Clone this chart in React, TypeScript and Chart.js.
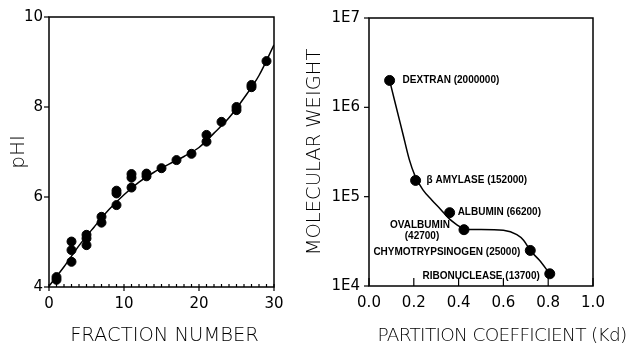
import React, { useEffect, useRef } from "react";
import { Chart, registerables } from "chart.js";

Chart.register(...registerables);

// ---- Left panel: pH gradient across fractions ----
const fractionNumber = [1, 1, 3, 3, 3, 5, 5, 5, 7, 7, 9, 9, 9, 11, 11, 11, 13, 13, 15, 17, 19, 21, 21, 23, 25, 25, 27, 27, 29];
const fractionPh = [4.22, 4.16, 5.01, 4.82, 4.56, 5.16, 5.08, 4.93, 5.56, 5.43, 6.14, 6.08, 5.82, 6.51, 6.43, 6.21, 6.52, 6.46, 6.64, 6.82, 6.96, 7.38, 7.23, 7.67, 8.0, 7.93, 8.49, 8.44, 9.02];
const phFitFraction = [0, 2, 4, 6, 8, 10, 12, 14, 16, 18, 20, 22, 24, 26, 28, 30];
const phFitValue = [4.02, 4.45, 4.92, 5.33, 5.72, 6.05, 6.33, 6.55, 6.73, 6.9, 7.1, 7.42, 7.76, 8.2, 8.7, 9.38];
const fractionTicks = [0, 10, 20, 30];
const phTicks = [4, 6, 8, 10];

// ---- Right panel: calibration of molecular weight vs Kd ----
const standardNames = ["DEXTRAN", "β AMYLASE", "ALBUMIN", "OVALBUMIN", "CHYMOTRYPSINOGEN", "RIBONUCLEASE"];
const standardKd = [0.092, 0.208, 0.36, 0.424, 0.72, 0.807];
const standardMw = [2000000, 152000, 66200, 42700, 25000, 13700];
const calibKd = [0.092, 0.115, 0.152, 0.18, 0.205, 0.24, 0.28, 0.32, 0.36, 0.4, 0.424, 0.5, 0.6, 0.66, 0.69, 0.72, 0.76, 0.807];
const calibMw = [2000000, 1170000, 497000, 260000, 172000, 120000, 92000, 72000, 56000, 47000, 43000, 43000, 42000, 37500, 32500, 25000, 19500, 13700];
const kdTicks = [0, 0.2, 0.4, 0.6, 0.8, 1.0];
const mwTicks = [10000, 100000, 1000000, 10000000];

const TICK_FONT = { family: "'DejaVu Sans', sans-serif", size: 15 };
const TITLE_FAMILY = "'DejaVu Sans', sans-serif";
const LABEL_FONT = "bold 10px 'Liberation Sans Narrow', 'Liberation Sans', sans-serif";

type TickSpec = { axis: "x" | "y"; values: number[]; len: number };

// Draws the boxed frame, the tick marks (positive = outward, negative = inward)
// and the horizontal axis title.
const framePlugin = {
  id: "frame",
  afterDraw(chart: any, _args: any, opts: any) {
    const { ctx, chartArea: a, scales } = chart;
    ctx.save();
    ctx.strokeStyle = "#000";
    ctx.lineWidth = 1.5;
    ctx.strokeRect(a.left, a.top, a.right - a.left, a.bottom - a.top);
    ctx.lineWidth = 1.2;
    (opts.ticks as TickSpec[]).forEach((spec) => {
      spec.values.forEach((v) => {
        ctx.beginPath();
        if (spec.axis === "x") {
          const px = scales.x.getPixelForValue(v);
          ctx.moveTo(px, a.bottom);
          ctx.lineTo(px, a.bottom + spec.len);
        } else {
          const py = scales.y.getPixelForValue(v);
          ctx.moveTo(a.left, py);
          ctx.lineTo(a.left - spec.len, py);
        }
        ctx.stroke();
      });
    });
    if (opts.xTitle) {
      ctx.fillStyle = "#000";
      ctx.font = opts.xTitle.font;
      (ctx as any).letterSpacing = opts.xTitle.spacing || "0px";
      ctx.textAlign = "center";
      ctx.textBaseline = "middle";
      ctx.fillText(opts.xTitle.text, (a.left + a.right) / 2 + opts.xTitle.dx, opts.xTitle.y);
    }
    ctx.restore();
  },
};

// Writes the name and molecular weight beside each standard.
const labelPlugin = {
  id: "standardLabels",
  afterDatasetsDraw(chart: any) {
    const { ctx, scales } = chart;
    ctx.save();
    ctx.fillStyle = "#000";
    ctx.font = LABEL_FONT;
    ctx.textBaseline = "middle";
    standardNames.forEach((name, i) => {
      const px = scales.x.getPixelForValue(standardKd[i]);
      const py = scales.y.getPixelForValue(standardMw[i]);
      const mw = `(${standardMw[i]})`;
      if (name === "OVALBUMIN") {
        ctx.textAlign = "center";
        ctx.fillText(name, px - 44, py - 4);
        ctx.fillText(mw, px - 42, py + 7);
      } else if (standardKd[i] > 0.6) {
        ctx.textAlign = "right";
        ctx.fillText(`${name} ${mw}`, px - 10, py + 2);
      } else {
        ctx.textAlign = "left";
        ctx.fillText(`${name} ${mw}`, px + (i === 0 ? 13 : i === 1 ? 11 : 8), py);
      }
    });
    ctx.restore();
  },
};

function leftConfig(): any {
  return {
    type: "scatter",
    data: {
      datasets: [
        {
          data: fractionNumber.map((x, i) => ({ x, y: fractionPh[i] })),
          pointRadius: 4.5,
          pointBackgroundColor: "#000",
          pointBorderColor: "#000",
          showLine: false,
        },
        {
          data: phFitFraction.map((x, i) => ({ x, y: phFitValue[i] })),
          showLine: true,
          pointRadius: 0,
          borderColor: "#000",
          borderWidth: 1.5,
          cubicInterpolationMode: "monotone",
        },
      ],
    },
    options: {
      responsive: false,
      animation: false,
      layout: { padding: { left: 0, top: 17, right: 31, bottom: 0 } },
      plugins: {
        legend: { display: false },
        tooltip: { enabled: false },
        frame: {
          ticks: [
            { axis: "y", values: phTicks, len: 5 },
            { axis: "x", values: fractionTicks, len: 4 },
            { axis: "x", values: Array.from({ length: 31 }, (_, k) => k), len: -3 },
          ],
          xTitle: { text: "FRACTION NUMBER", font: `200 19.5px ${TITLE_FAMILY}`, dx: 3, y: 336 },
        },
      },
      scales: {
        x: {
          type: "linear",
          min: 0,
          max: 30,
          afterBuildTicks: (s: any) => { s.ticks = fractionTicks.map((value) => ({ value })); },
          ticks: { color: "#000", font: TICK_FONT, padding: 8 },
          grid: { display: false, drawTicks: false },
          border: { display: false },
          afterFit: (s: any) => { s.height = 60; },
        },
        y: {
          type: "linear",
          min: 4,
          max: 10,
          afterBuildTicks: (s: any) => { s.ticks = phTicks.map((value) => ({ value })); },
          ticks: { color: "#000", font: TICK_FONT, padding: 6 },
          grid: { display: false, drawTicks: false },
          border: { display: false },
          title: {
            display: true,
            text: "pHI",
            color: "#000",
            font: { family: TITLE_FAMILY, size: 20, weight: 200 },
            padding: { top: 7, bottom: 0 },
          },
          afterFit: (s: any) => { s.width = 49; },
        },
      },
    },
    plugins: [framePlugin],
  };
}

function rightConfig(): any {
  return {
    type: "scatter",
    data: {
      datasets: [
        {
          data: standardKd.map((x, i) => ({ x, y: standardMw[i] })),
          pointRadius: 5,
          pointBackgroundColor: "#000",
          pointBorderColor: "#000",
          showLine: false,
        },
        {
          data: calibKd.map((x, i) => ({ x, y: calibMw[i] })),
          showLine: true,
          pointRadius: 0,
          borderColor: "#000",
          borderWidth: 1.5,
          cubicInterpolationMode: "monotone",
        },
      ],
    },
    options: {
      responsive: false,
      animation: false,
      layout: { padding: { left: 0, top: 16, right: 37, bottom: 0 } },
      plugins: {
        legend: { display: false },
        tooltip: { enabled: false },
        frame: {
          ticks: [
            { axis: "y", values: mwTicks, len: 5 },
            { axis: "x", values: kdTicks, len: -8 },
          ],
          xTitle: {
            text: "PARTITION COEFFICIENT (Kd)",
            font: `200 18.5px ${TITLE_FAMILY}`,
            spacing: "-0.7px",
            dx: 21,
            y: 336,
          },
        },
      },
      scales: {
        x: {
          type: "linear",
          min: 0,
          max: 1,
          afterBuildTicks: (s: any) => { s.ticks = kdTicks.map((value) => ({ value })); },
          ticks: { color: "#000", font: TICK_FONT, padding: 8, callback: (v: any) => Number(v).toFixed(1) },
          grid: { display: false, drawTicks: false },
          border: { display: false },
          afterFit: (s: any) => { s.height = 61; },
        },
        y: {
          type: "logarithmic",
          min: 10000,
          max: 10000000,
          afterBuildTicks: (s: any) => { s.ticks = mwTicks.map((value) => ({ value })); },
          ticks: {
            color: "#000",
            font: TICK_FONT,
            padding: 9,
            callback: (v: any) => "1E" + Math.round(Math.log10(Number(v))),
          },
          grid: { display: false, drawTicks: false },
          border: { display: false },
          title: {
            display: true,
            text: "MOLECULAR WEIGHT",
            color: "#000",
            font: { family: TITLE_FAMILY, size: 19.5, weight: 200, lineHeight: 1 },
            padding: 0,
          },
          afterFit: (s: any) => { s.width = 64; },
        },
      },
    },
    plugins: [framePlugin, labelPlugin],
  };
}

export default function App() {
  const leftRef = useRef<HTMLCanvasElement>(null);
  const rightRef = useRef<HTMLCanvasElement>(null);

  useEffect(() => {
    document.body.style.margin = "0";
    const left = new Chart(leftRef.current as HTMLCanvasElement, leftConfig());
    const right = new Chart(rightRef.current as HTMLCanvasElement, rightConfig());
    return () => {
      left.destroy();
      right.destroy();
    };
  }, []);

  return (
    <div style={{ position: "relative", width: 630, height: 347, background: "#fff" }}>
      <canvas ref={leftRef} width={305} height={347} style={{ position: "absolute", left: 0, top: 0, display: "block" }} />
      <canvas ref={rightRef} width={325} height={347} style={{ position: "absolute", left: 305, top: 0, display: "block" }} />
    </div>
  );
}
